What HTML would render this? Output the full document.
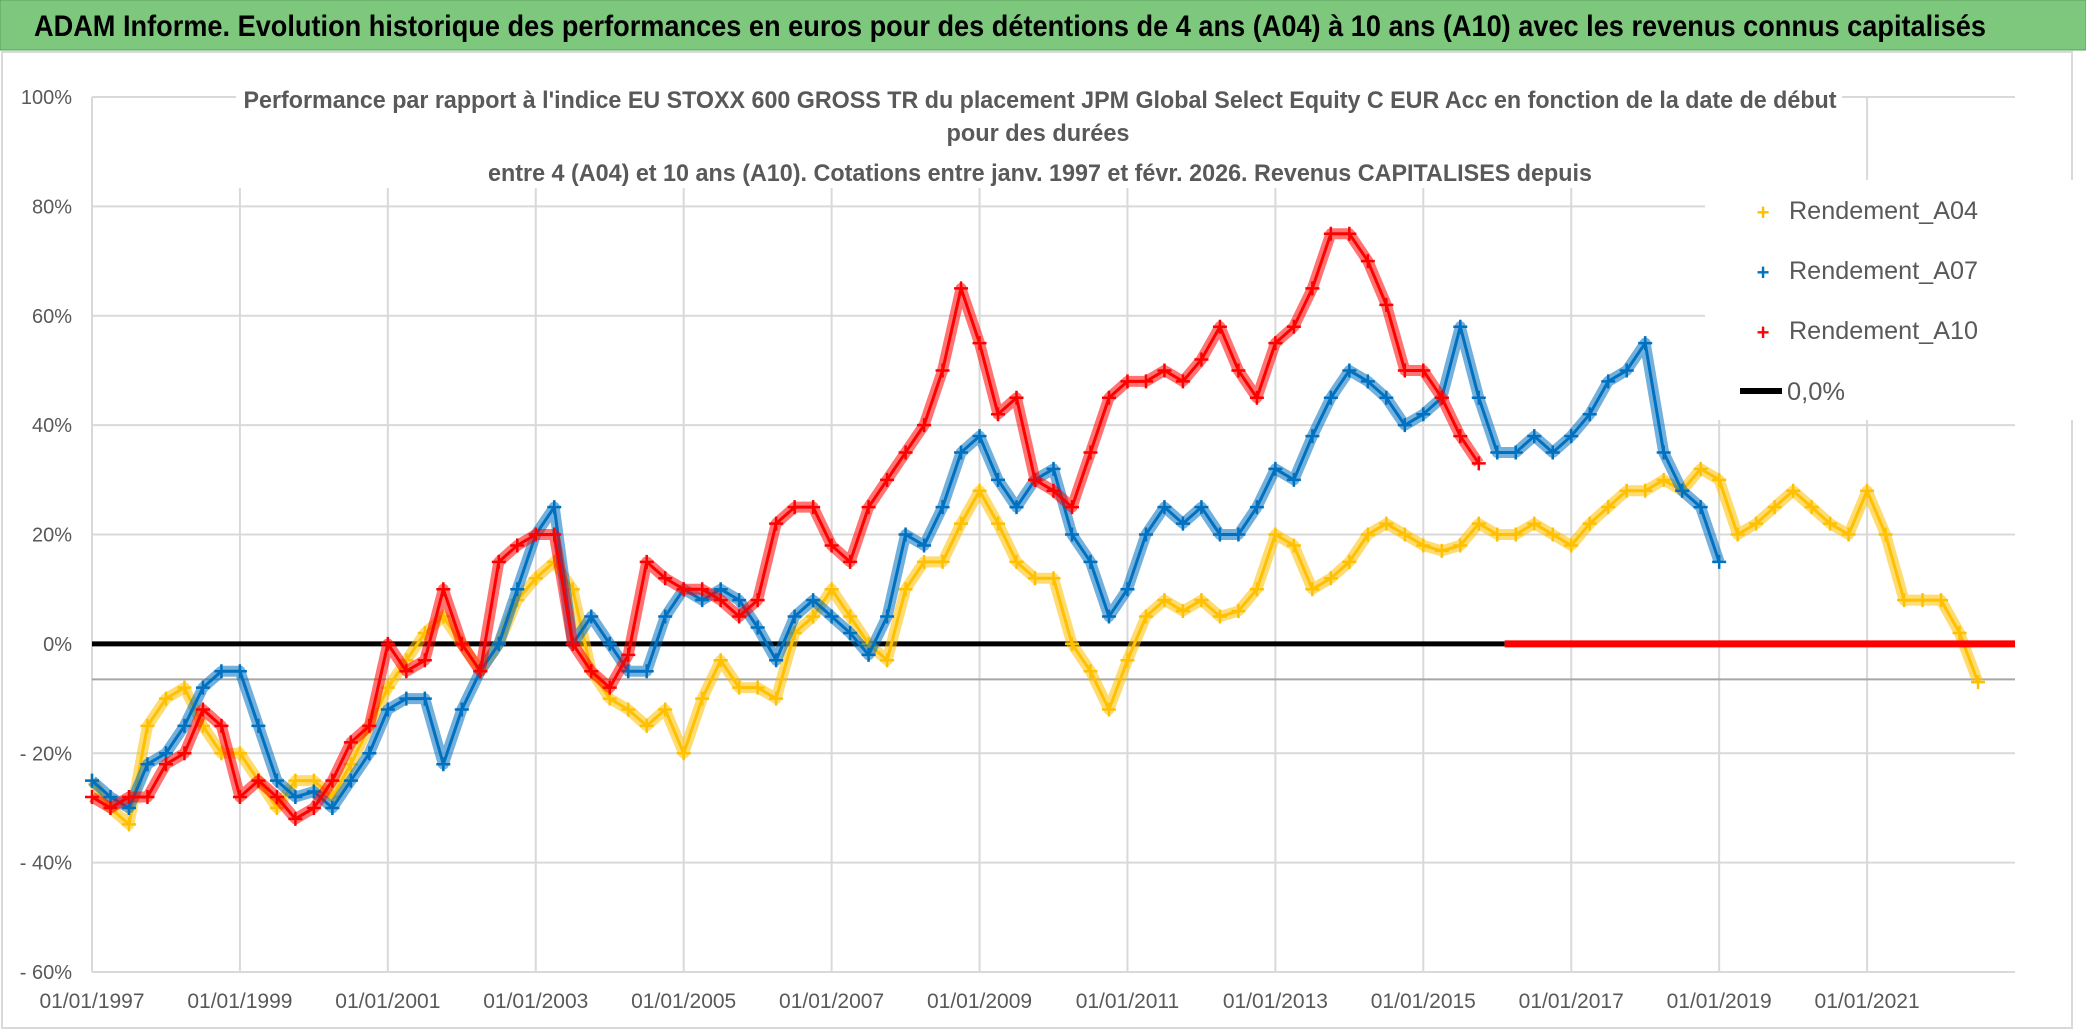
<!DOCTYPE html>
<html><head><meta charset="utf-8"><style>
body{margin:0;background:#fff;}
svg{display:block;font-family:"Liberation Sans",sans-serif;}
</style></head><body>
<svg id="chart" width="2086" height="1031" viewBox="0 0 2086 1031" xmlns="http://www.w3.org/2000/svg">
<rect x="0" y="0" width="2086" height="50" fill="#7ec87e" stroke="#5aa05a"/>
<text x="1010" y="36" text-anchor="middle" font-size="30" font-weight="bold" fill="#000" textLength="1952" lengthAdjust="spacingAndGlyphs">ADAM Informe. Evolution historique des performances en euros pour des détentions de 4 ans (A04) à 10 ans (A10) avec les revenus connus capitalisés</text>
<rect x="2" y="52" width="2070" height="976" fill="none" stroke="#d9d9d9" stroke-width="2"/>
<g id="grid"></g>
<g id="series"></g>
<g font-weight="bold" fill="#595959" font-size="24">
<rect x="236" y="80" width="1606" height="108" fill="#fff"/>
<text x="1040" y="108" text-anchor="middle" textLength="1593" lengthAdjust="spacingAndGlyphs">Performance par rapport à l'indice EU STOXX 600 GROSS TR  du placement JPM Global Select Equity C EUR Acc en fonction de la date de début</text>
<text x="1038" y="141" text-anchor="middle" textLength="183" lengthAdjust="spacingAndGlyphs">pour des durées</text>
<text x="1040" y="181" text-anchor="middle" textLength="1104" lengthAdjust="spacingAndGlyphs">entre 4 (A04) et 10 ans (A10). Cotations entre janv. 1997 et févr. 2026. Revenus CAPITALISES depuis</text>
</g>
<g id="legend">
<rect x="1705" y="180" width="370" height="240" fill="#fff"/>
<g><text x="1763" y="220" text-anchor="middle" font-size="22" fill="#ffc000" font-weight="bold">+</text><text x="1789" y="219" font-size="25" fill="#595959" textLength="189" lengthAdjust="spacingAndGlyphs">Rendement_A04</text></g>
<g><text x="1763" y="280" text-anchor="middle" font-size="22" fill="#0070c0" font-weight="bold">+</text><text x="1789" y="279" font-size="25" fill="#595959" textLength="189" lengthAdjust="spacingAndGlyphs">Rendement_A07</text></g>
<g><text x="1763" y="340" text-anchor="middle" font-size="22" fill="#ff0000" font-weight="bold">+</text><text x="1789" y="339" font-size="25" fill="#595959" textLength="189" lengthAdjust="spacingAndGlyphs">Rendement_A10</text></g>
<g><line x1="1740" y1="391" x2="1782" y2="391" stroke="#000" stroke-width="6"/><text x="1787" y="400" font-size="25" fill="#595959" textLength="58" lengthAdjust="spacingAndGlyphs">0,0%</text></g>
</g>
</svg>
<script>
const yTicks=[100,80,60,40,20,0,-20,-40,-60];
const yTickLabels=["100%","80%","60%","40%","20%","0%","- 20%","- 40%","- 60%"];
const xTicks=[1997,1999,2001,2003,2005,2007,2009,2011,2013,2015,2017,2019,2021];
const xTickLabels=["01/01/1997","01/01/1999","01/01/2001","01/01/2003","01/01/2005","01/01/2007","01/01/2009","01/01/2011","01/01/2013","01/01/2015","01/01/2017","01/01/2019","01/01/2021"];
const a04Start=1997;
const a04=[-25,-30,-33,-15,-10,-8,-15,-20,-20,-25,-30,-25,-25,-28,-22,-15,-8,-3,2,5,0,-5,0,8,12,15,10,-5,-10,-12,-15,-12,-20,-10,-3,-8,-8,-10,2,5,10,5,0,-3,10,15,15,22,28,22,15,12,12,0,-5,-12,-3,5,8,6,8,5,6,10,20,18,10,12,15,20,22,20,18,17,18,22,20,20,22,20,18,22,25,28,28,30,28,32,30,20,22,25,28,25,22,20,28,20,8,8,8,2,-7];
const a07Start=1997;
const a07=[-25,-28,-30,-22,-20,-15,-8,-5,-5,-15,-25,-28,-27,-30,-25,-20,-12,-10,-10,-22,-12,-5,0,10,20,25,0,5,0,-5,-5,5,10,8,10,8,3,-3,5,8,5,2,-2,5,20,18,25,35,38,30,25,30,32,20,15,5,10,20,25,22,25,20,20,25,32,30,38,45,50,48,45,40,42,45,58,45,35,35,38,35,38,42,48,50,55,35,28,25,15];
const a10Start=1997;
const a10=[-28,-30,-28,-28,-22,-20,-12,-15,-28,-25,-28,-32,-30,-25,-18,-15,0,-5,-3,10,0,-5,15,18,20,20,0,-5,-8,-2,15,12,10,10,8,5,8,22,25,25,18,15,25,30,35,40,50,65,55,42,45,30,28,25,35,45,48,48,50,48,52,58,50,45,55,58,65,75,75,70,62,50,50,45,38,33];
const a10ZeroRange=[2016.1,2023];
const refLine=-6.5;
const step=0.25;

const L=92,R=2015,T=97,B=972,X0=1997,X1=2023;
const xs=v=>L+(v-X0)/(X1-X0)*(R-L);
const ys=v=>T+(100-v)/160*(B-T);
const NS="http://www.w3.org/2000/svg";
function mk(tag,attrs,parent){const e=document.createElementNS(NS,tag);for(const k in attrs)e.setAttribute(k,attrs[k]);parent.appendChild(e);return e;}
const grid=document.getElementById('grid'),ser=document.getElementById('series');
yTicks.forEach((v,i)=>{
 const l=mk('line',{x1:L,x2:R,y1:ys(v),y2:ys(v),stroke:'#d9d9d9','stroke-width':2},grid);
 
 
 const t=mk('text',{x:L-20,y:ys(v)+7,'text-anchor':'end','font-size':20,fill:'#595959'},grid);
 t.textContent=yTickLabels[i];
 
 
});
xTicks.forEach((v,i)=>{
 const l=mk('line',{x1:xs(v),x2:xs(v),y1:T,y2:B,stroke:'#d9d9d9','stroke-width':2},grid);
 
 
 const t=mk('text',{x:xs(v),y:1008,'text-anchor':'middle','font-size':21,fill:'#595959'},grid);
 t.textContent=xTickLabels[i];
 
 
});
const rl=mk('line',{x1:L,x2:R,y1:ys(refLine),y2:ys(refLine),stroke:'#a6a6a6','stroke-width':2},grid);


const zl=mk('line',{x1:L,x2:xs(a10ZeroRange[0]),y1:ys(0),y2:ys(0),stroke:'#000','stroke-width':5},ser);


function drawSeries(vals,start,color,name){
 const g=mk('g',{},ser);
 
 
 const pts=vals.map((v,i)=>xs(start+i*step)+','+ys(v)).join(' ');
 mk('polyline',{points:pts,fill:'none',stroke:color,'stroke-width':11,'stroke-linejoin':'round','stroke-opacity':0.55},g);
 mk('polyline',{points:pts,fill:'none',stroke:color,'stroke-width':3,'stroke-linejoin':'round'},g);
 vals.forEach((v,i)=>{
  const x=xs(start+i*step),y=ys(v);
  const p=mk('path',{d:`M${x-7},${y}H${x+7}M${x},${y-7}V${y+7}`,stroke:color,'stroke-width':2.5},g);
  
  
 });
}
drawSeries(a04,a04Start,'#ffc000','series-a04');
drawSeries(a07,a07Start,'#0070c0','series-a07');
drawSeries(a10,a10Start,'#ff0000','series-a10');
const rz=mk('line',{x1:xs(a10ZeroRange[0]),x2:xs(a10ZeroRange[1]),y1:ys(0),y2:ys(0),stroke:'#ff0000','stroke-width':7},ser);


</script>
</body></html>
